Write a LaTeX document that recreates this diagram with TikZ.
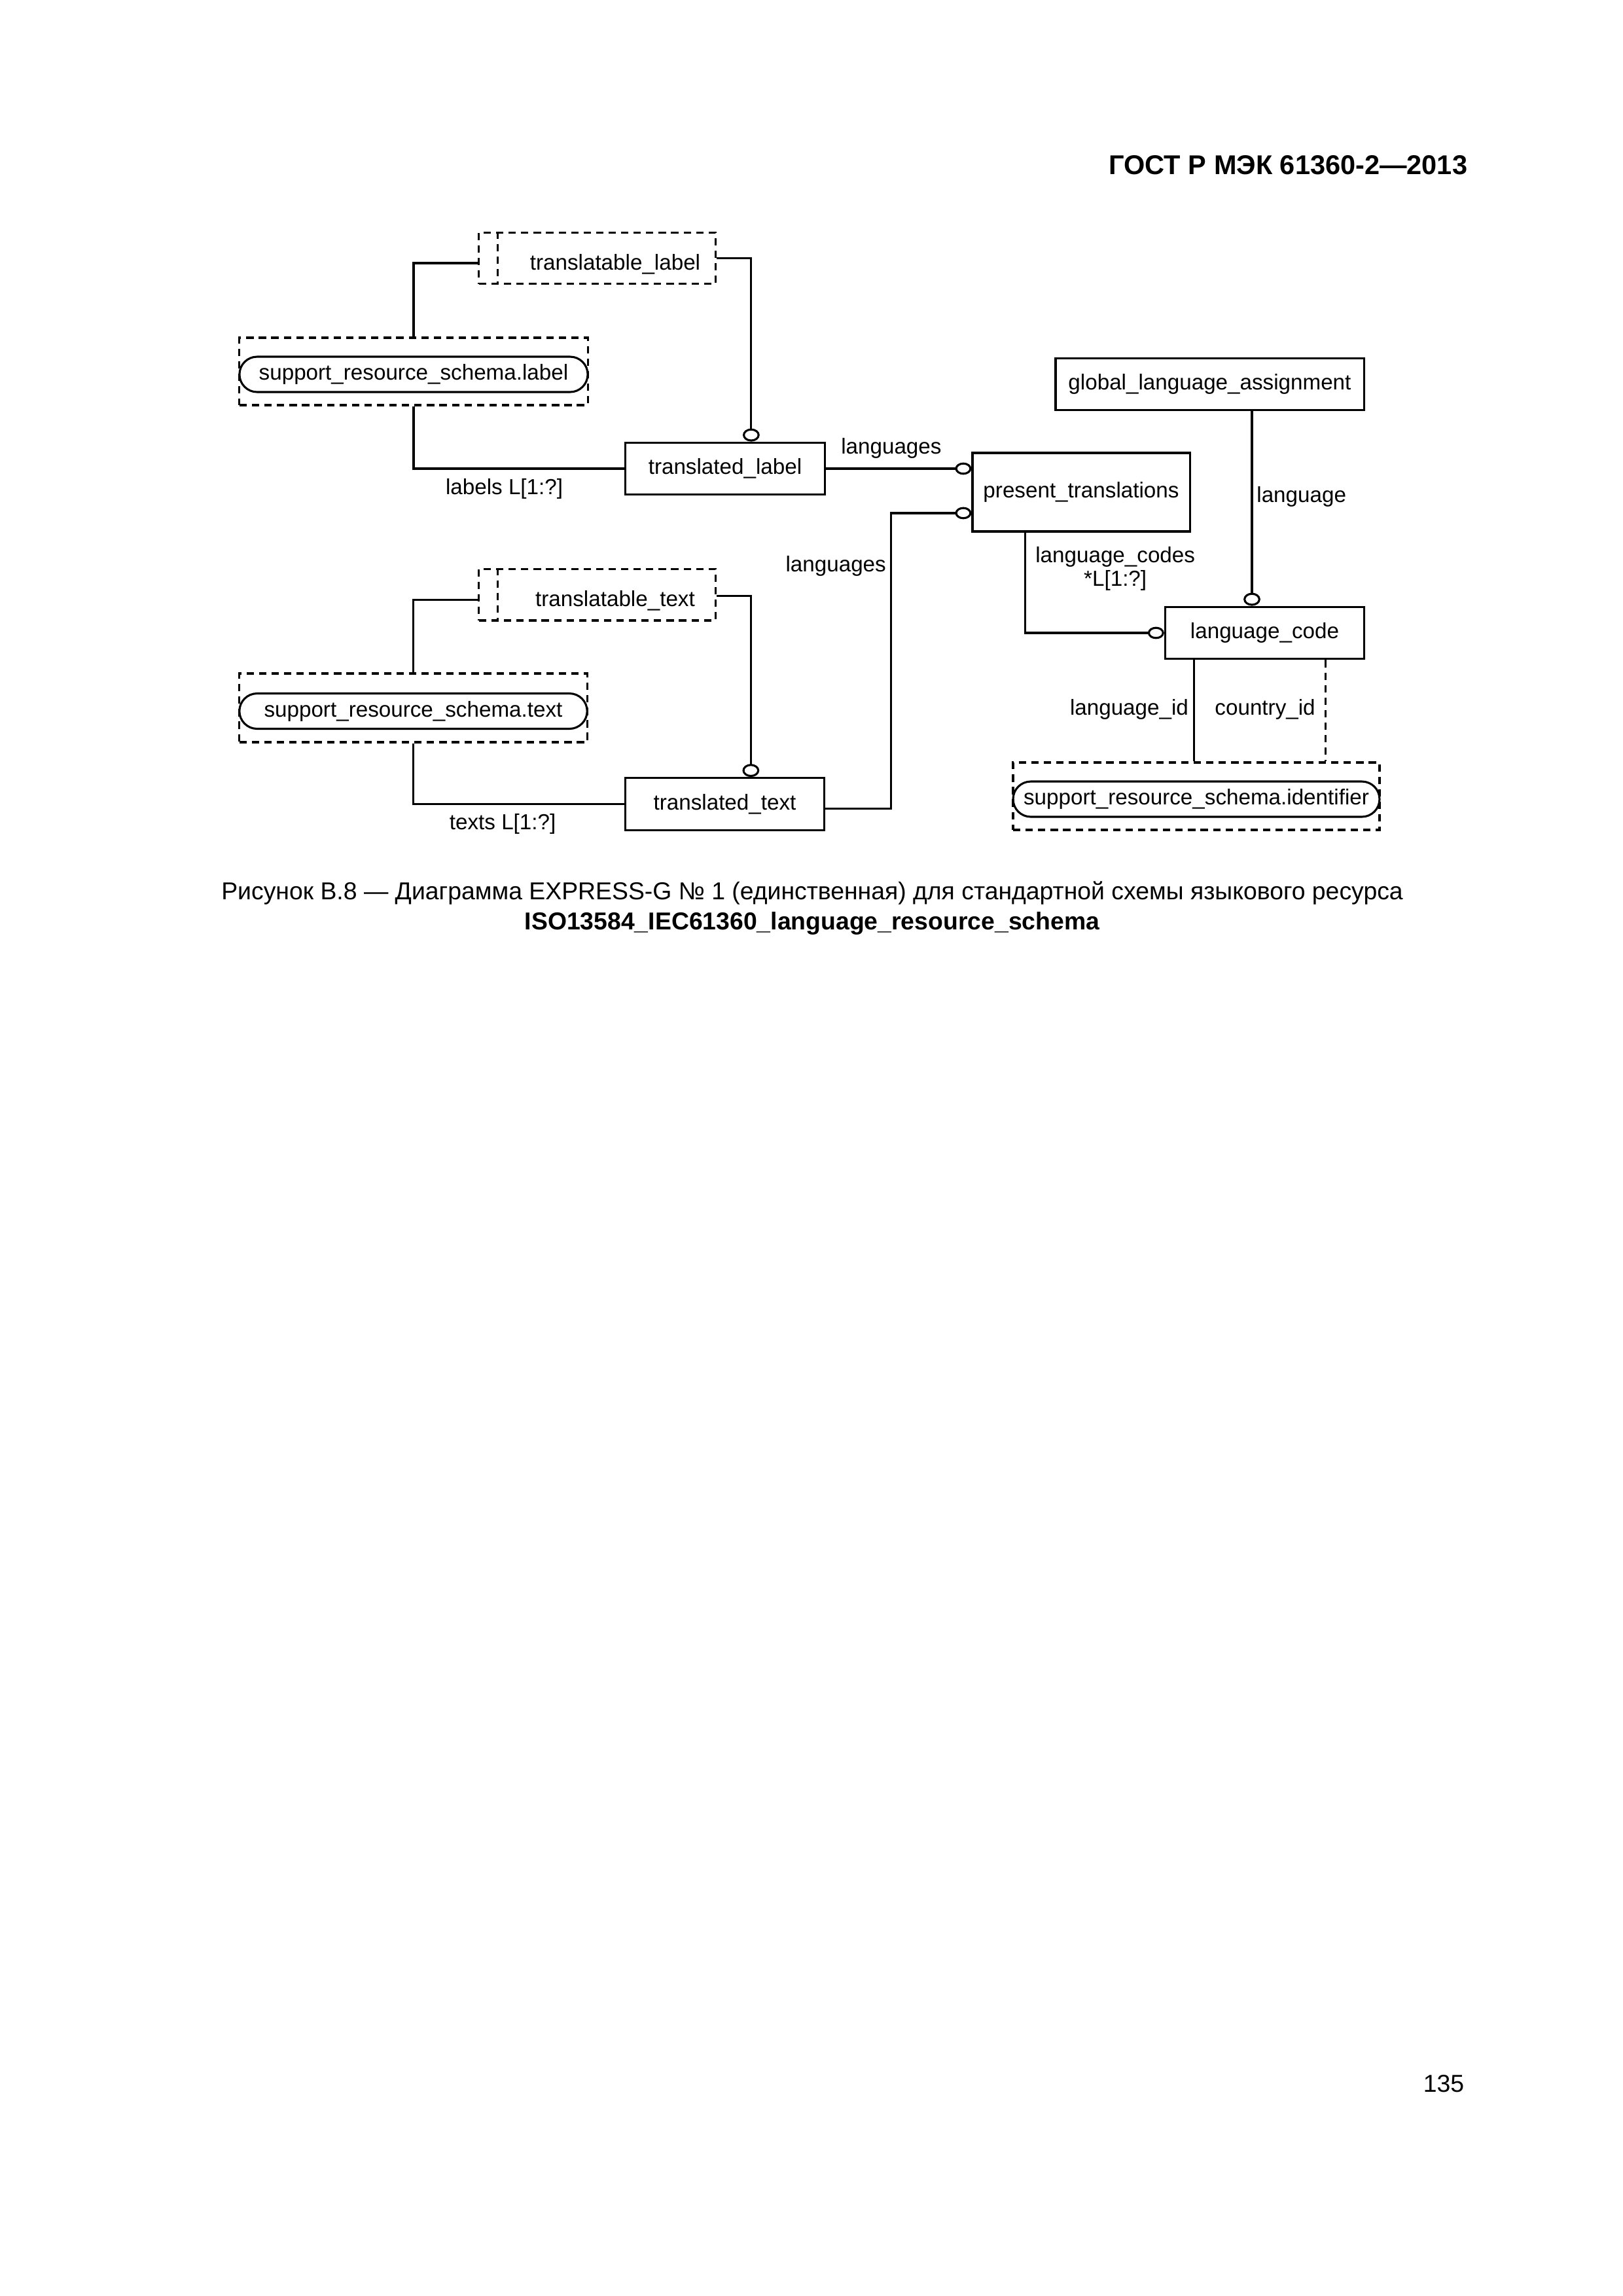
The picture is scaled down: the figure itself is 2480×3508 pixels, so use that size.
\documentclass[tikz,border=0pt]{standalone}
\usepackage{fontspec}
\setmainfont{Liberation Sans}
\usetikzlibrary{positioning,arrows.meta,shapes.misc}

\begin{document}
\begin{tikzpicture}[x=0.2409pt,y=-0.2409pt,
			every node/.style={font=\fontsize{8}{8.6}\selectfont},
			ent/.style={draw, line width=0.75pt, inner sep=0pt,
					minimum width=73.3pt, minimum height=19.2pt},
			grp/.style={draw, line width=0.75pt, dash pattern=on 2.7pt off 1.9pt, inner sep=0pt},
			sel/.style={grp, minimum width=87pt, minimum height=19pt},
			ref/.style={draw, line width=0.75pt, rounded rectangle, inner sep=0pt, minimum height=13pt},
			lnk/.style={line width=0.75pt},
			dlnk/.style={lnk, dash pattern=on 2.7pt off 1.9pt},
			vring/.tip={Circle[open, length=4.8pt, width=6.2pt]},
			hring/.tip={Circle[open, length=6pt, width=4.5pt]}]

		\useasboundingbox (0,0) rectangle (2480,3508);

		\node[font=\bfseries\fontsize{10}{12}\selectfont, anchor=east, inner sep=0pt] (head) at (2243,252) {ГОСТ Р МЭК 61360-2—2013};

		\node[sel] (tlabel) at (912.5,394.5) {};
		\node (tlabeltxt) at (940,404) {translatable\_label};
		\draw[grp] ([xshift=7.2pt]tlabel.north west) -- ([xshift=7.2pt]tlabel.south west);
		\node[grp, minimum width=128.2pt, minimum height=24.8pt] (slabel) at (632,567.5) {};
		\node[ref, minimum width=128.2pt] (slabelref) at (632,572) {support\_resource\_schema.label};
		\node[ent] (tlab) at (1108,716) {translated\_label};
		\node[ent, minimum width=80pt, minimum height=28.9pt] (pt) at (1652,752) {present\_translations};
		\node[ent, minimum width=113.5pt] (gla) at (1848.5,587) {global\_language\_assignment};

		\node[sel] (ttextsel) at (912.5,908.5) {};
		\node (ttexttxt) at (940,918) {translatable\_text};
		\draw[grp] ([xshift=7.2pt]ttextsel.north west) -- ([xshift=7.2pt]ttextsel.south west);
		\node[grp, minimum width=128pt, minimum height=25.3pt] (stext) at (631.5,1081.5) {};
		\node[ref, minimum width=128pt] (stextref) at (631.5,1086.5) {support\_resource\_schema.text};
		\node[ent] (ttext) at (1107.5,1228.5) {translated\_text};

		\node[ent] (lcode) at (1932.5,967) {language\_code};
		\node[grp, minimum width=134.9pt, minimum height=24.8pt] (ident) at (1828,1216.5) {};
		\node[ref, minimum width=134.9pt] (identref) at (1828,1221) {support\_resource\_schema.identifier};

		\draw[lnk] ([yshift=-1.8pt]tlabel.west) -| (slabel.north);
		\draw[lnk,-vring] (tlabel.east) -| ([xshift=9.6pt]tlab.north);
		\draw[lnk] (slabel.south) |- node[pos=0.715, below] (lbllabels) {labels L[1:?]} (tlab.west);
		\draw[lnk,-hring] (tlab.east) -- node[pos=0.45, above] (lbllangs) {languages} (tlab.east -| pt.west);

		\draw[lnk] ([yshift=-2pt]ttextsel.west) -| (stext.north);
		\draw[lnk,-vring] ([yshift=-0.4pt]ttextsel.east) -| ([xshift=9.6pt]ttext.north);
		\draw[lnk] (stext.south) |- node[pos=0.712, below] (lbltexts) {texts L[1:?]} (ttext.west);
		\draw[lnk,-hring] ([yshift=-1.6pt]ttext.east) -- ++(100,0) |- node[pos=0.41, left, inner xsep=1.4pt] (lbllangs2) {languages} ([yshift=-7.7pt]pt.west);

		\draw[lnk,-vring] ([xshift=-4.7pt]lcode.north |- gla.south) -- node[pos=0.44, right, inner xsep=1.4pt] (lbllang) {language} ([xshift=-4.7pt]lcode.north);
		\draw[lnk,-hring] ([xshift=-20.5pt]pt.south) |- node[pos=0.18, right, align=center] (lblcodes) {language\_codes\\*L[1:?]} (lcode.west);
		\draw[lnk] ([xshift=-26.1pt]lcode.south) -- node[pos=0.49, left, inner xsep=1.6pt] (lblid) {language\_id} ([xshift=-26.1pt]lcode.south |- ident.north);
		\draw[dlnk] ([xshift=22.3pt]lcode.south) -- node[pos=0.49, left] (lblcty) {country\_id} ([xshift=22.3pt]lcode.south |- ident.north);

		\node[font=\fontsize{9}{11}\selectfont, inner sep=0pt] (cap1) at (1241,1364) {Рисунок В.8 — Диаграмма EXPRESS-G № 1 (единственная) для стандартной схемы языкового ресурса};
		\node[font=\bfseries\fontsize{9}{11}\selectfont, inner sep=0pt] (cap2) at (1241,1411) {ISO13584\_IEC61360\_language\_resource\_schema};
		\node[font=\fontsize{9}{11}\selectfont, anchor=east, inner sep=0pt] (pgno) at (2238,3184) {135};

	\end{tikzpicture}
\end{document}
